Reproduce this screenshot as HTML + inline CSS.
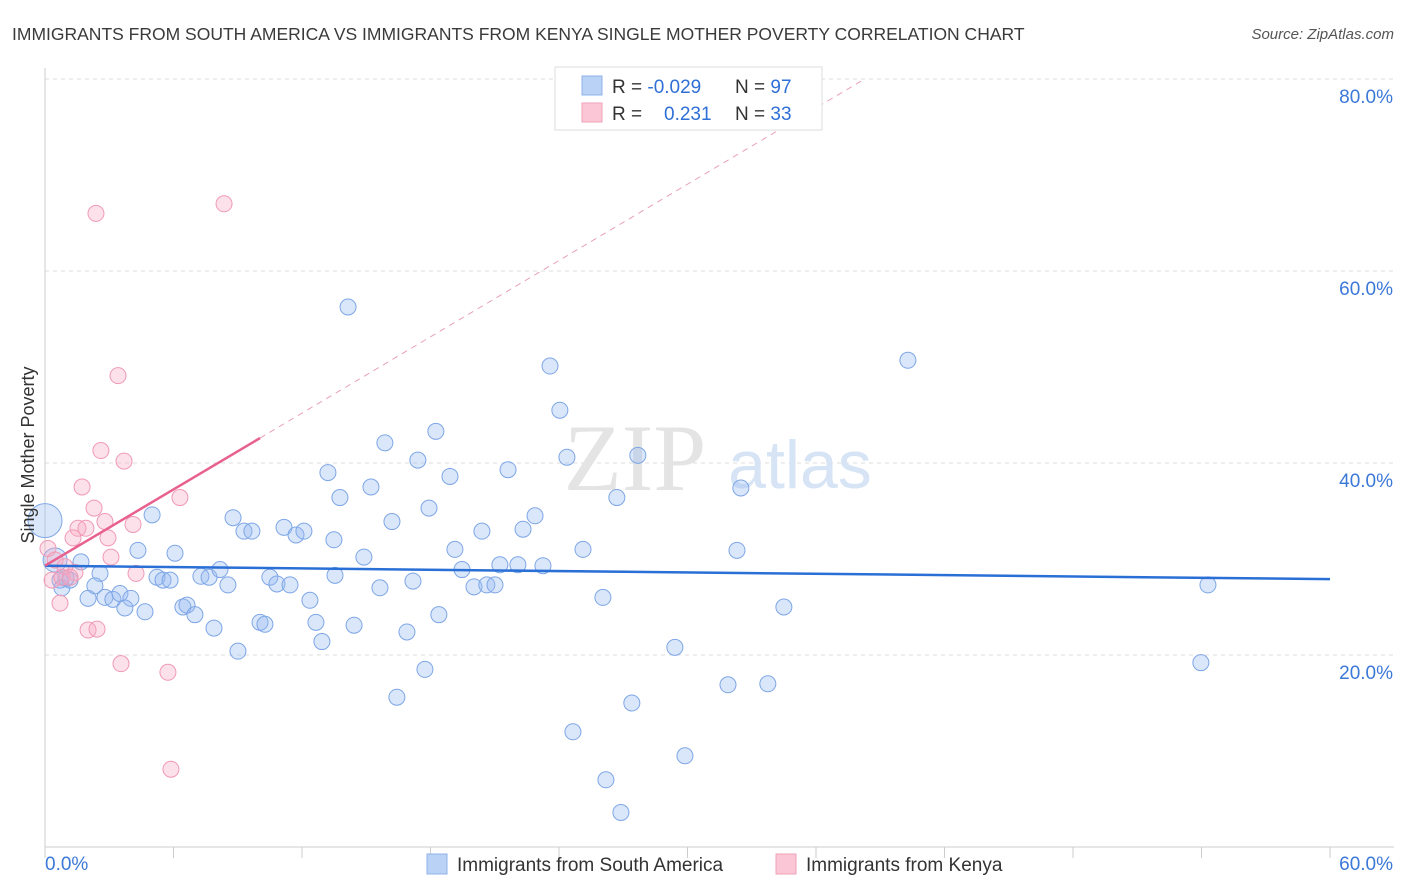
<!DOCTYPE html>
<html><head><meta charset="utf-8">
<style>
body{margin:0;background:#fff;font-family:"Liberation Sans",sans-serif;}
#wrap{position:relative;width:1406px;height:892px;overflow:hidden;}
</style></head>
<body><div id="wrap">
<svg id="svg" width="1406" height="892">
<text x="12" y="40" font-size="17.5" fill="#3a3a3a">IMMIGRANTS FROM SOUTH AMERICA VS IMMIGRANTS FROM KENYA SINGLE MOTHER POVERTY CORRELATION CHART</text>
<text x="1394" y="39" font-size="15" fill="#555" font-style="italic" text-anchor="end">Source: ZipAtlas.com</text>
<g id="grid"></g>
<text x="635" y="490" font-size="95" fill="#e4e4e4" font-family="Liberation Serif" text-anchor="middle">ZIP</text>
<text x="800" y="488" font-size="68" fill="#d6e4f5" text-anchor="middle">atlas</text>
<g id="pts"></g>
<g id="lines"></g>
<g>
<rect x="555" y="67" width="267" height="63" fill="#fff" stroke="#ddd"/>
<rect x="582" y="76" width="20" height="19" fill="#b9d2f5" stroke="#8fb3e8"/>
<rect x="582" y="103" width="20" height="19" fill="#fbc6d6" stroke="#f1a1ba"/>
<text x="612" y="93" font-size="19" fill="#333">R = <tspan fill="#2f6fd6">-0.029</tspan></text>
<text x="735" y="93" font-size="19" fill="#333">N = <tspan fill="#2f6fd6">97</tspan></text>
<text x="612" y="120" font-size="19" fill="#333">R = <tspan fill="#2f6fd6" x="664">0.231</tspan></text>
<text x="735" y="120" font-size="19" fill="#333">N = <tspan fill="#2f6fd6">33</tspan></text>
</g>
<text x="34" y="455" font-size="18" fill="#333" text-anchor="middle" transform="rotate(-90 34 455)">Single Mother Poverty</text>
<g>
<rect x="427" y="854" width="20" height="20" fill="#b9d2f5" stroke="#8fb3e8"/>
<text x="457" y="871" font-size="19" fill="#333">Immigrants from South America</text>
<rect x="776" y="854" width="20" height="20" fill="#fbc6d6" stroke="#f1a1ba"/>
<text x="806" y="871" font-size="19" fill="#333">Immigrants from Kenya</text>
</g>
</svg>
<script>
const blueX=[14.15,23.58,40.29,24.04,18.25,15.87,17.41,24.37,27.68,13.21,18.91,21.62,15.22,13.77,32.49,26.70,5.0,8.78,17.93,16.2,22.88,20.4,22.32,9.29,9.66,11.16,11.72,12.09,13.49,4.34,6.07,14.89,19.14,25.12,32.31,1.68,2.57,21.24,22.08,23.25,19.47,5.23,5.51,5.84,7.28,7.66,8.17,10.5,10.83,11.44,13.54,8.54,17.18,15.64,20.03,20.63,21.01,2.33,0.7,1.17,2.01,2.8,3.17,3.5,4.01,3.73,4.67,6.44,6.63,7.0,12.37,26.05,34.5,54.3,10.04,10.27,12.65,7.89,14.43,18.39,16.9,12.93,9.01,29.41,17.74,16.43,31.89,33.75,53.97,27.4,24.65,29.88,26.19,26.89,0,0.47,0.79,0.98];
const blueY=[56.25,50.1,50.7,45.5,43.3,42.1,40.3,40.6,40.8,39.0,38.6,39.3,37.5,36.4,37.4,36.4,34.6,34.3,35.3,33.9,34.5,32.9,33.1,32.9,32.9,33.3,32.5,32.9,32.0,30.9,30.6,30.2,31.0,31.0,30.9,29.7,28.5,29.4,29.4,29.3,28.9,28.1,27.8,27.8,28.2,28.1,28.9,28.1,27.4,27.3,28.3,27.3,27.7,27.0,27.1,27.3,27.3,27.2,27.8,27.8,25.9,26.0,25.8,26.4,25.9,24.9,24.5,25.0,25.2,24.2,25.7,26.0,25.0,27.3,23.4,23.2,23.4,22.8,23.1,24.2,22.4,21.4,20.4,20.8,18.5,15.6,16.9,17.0,19.2,15.0,12.0,9.5,7.0,3.6,34.0,29.9,27.0,28.0];
const pinkX=[2.38,8.36,3.41,2.61,3.69,1.73,6.3,2.29,2.8,4.11,1.54,1.91,1.31,2.94,3.08,0.14,0.47,0.93,1.4,0.33,0.79,1.17,4.25,0.7,2.01,2.43,3.55,5.74,5.88];
const pinkY=[66.0,67.0,49.1,41.3,40.2,37.5,36.4,35.3,33.9,33.6,33.2,33.2,32.2,32.2,30.2,31.1,29.9,29.2,28.6,27.8,28.1,28.1,28.5,25.4,22.6,22.7,19.1,18.2,8.1];
const bigBlue={94:17,95:12};
const yTicks=[20,40,60,80];
const blueTrend=[29.3,27.9];
const pinkTrend=[29.3,42.6];
const pinkSolidEnd=10.04;
const X=v=>45+v*21.417, Y=v=>847-v*9.6;
const ns="http://www.w3.org/2000/svg";
function mk(t,a,p){const e=document.createElementNS(ns,t);for(const k in a)e.setAttribute(k,a[k]);p.appendChild(e);return e;}
const grid=document.getElementById('grid');
yTicks.forEach(t=>{
  const l=mk('line',{x1:45,x2:1394,y1:Y(t),y2:Y(t),stroke:'#ddd','stroke-dasharray':'4,4'},grid);
  
  
  const tx=mk('text',{x:1393,y:Y(t)+24,'font-size':19,fill:'#3b78d8','text-anchor':'end'},grid);
  tx.textContent=t.toFixed(1)+'%';
  
  
});
mk('line',{x1:45,x2:45,y1:68,y2:847,stroke:'#ccc'},grid);
mk('line',{x1:45,x2:1394,y1:847,y2:847,stroke:'#ccc'},grid);
for(let i=0;i<=10;i++){
  const t=mk('line',{x1:X(i*6),x2:X(i*6),y1:847,y2:858,stroke:'#ccc'},grid);
  
  
}
const xl=mk('text',{x:45,y:870,'font-size':19,fill:'#3b78d8'},grid);xl.textContent='0.0%';


const xr=mk('text',{x:1393,y:870,'font-size':19,fill:'#3b78d8','text-anchor':'end'},grid);xr.textContent='60.0%';


const pts=document.getElementById('pts');
blueX.forEach((x,i)=>{
  const c=mk('circle',{cx:X(x),cy:Y(blueY[i]),r:bigBlue[i]||8,fill:'rgba(150,185,240,0.35)',stroke:'#7ea6e6','stroke-width':1},pts);
  
  
});
pinkX.forEach((x,i)=>{
  const c=mk('circle',{cx:X(x),cy:Y(pinkY[i]),r:8,fill:'rgba(248,170,195,0.35)',stroke:'#f09ab5','stroke-width':1},pts);
  
  
});
const lines=document.getElementById('lines');
const bl=mk('line',{x1:X(0),y1:Y(blueTrend[0]),x2:X(60),y2:Y(blueTrend[1]),stroke:'#2a6fd6','stroke-width':2.5},lines);


const slope=(pinkTrend[1]-pinkTrend[0])/pinkSolidEnd;
const xEnd=(80-pinkTrend[0])/slope;
const pd=mk('line',{x1:X(pinkSolidEnd),y1:Y(pinkTrend[1]),x2:X(xEnd),y2:Y(80),stroke:'#eaa0b8','stroke-width':1,'stroke-dasharray':'6,5'},lines);


const ps=mk('line',{x1:X(0),y1:Y(pinkTrend[0]),x2:X(pinkSolidEnd),y2:Y(pinkTrend[1]),stroke:'#e8608e','stroke-width':2.5},lines);


</script>
</div></body></html>
